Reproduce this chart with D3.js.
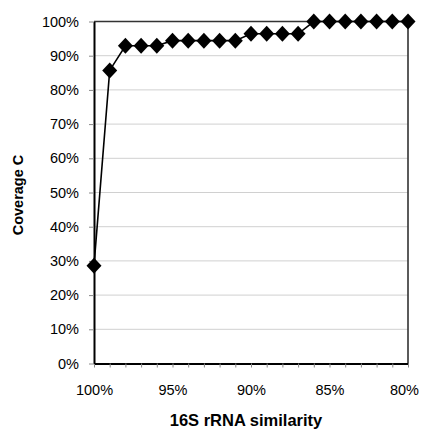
<!DOCTYPE html>
<meta charset="utf-8">
<script src="https://d3js.org/d3.v7.min.js"></script>
<body style="margin:0">
    <div id="viz"></div>
</body>
<style>
    text { font-family: "Liberation Sans", Arial, sans-serif; fill: black; }
</style>
<script>
    // similarity (%) and coverage (%)
    let similarity = [100, 99, 98, 97, 96, 95, 94, 93, 92, 91, 90, 89, 88, 87, 86, 85, 84, 83, 82, 81, 80];
    let coverage = [28.6, 85.7, 92.9, 92.9, 92.9, 94.4, 94.4, 94.4, 94.4, 94.4, 96.4, 96.4, 96.4, 96.4,
        100, 100, 100, 100, 100, 100, 100];
    let xTicks = [100, 95, 90, 85, 80];
    let yTicks = [0, 10, 20, 30, 40, 50, 60, 70, 80, 90, 100];

    let W = 422, H = 429;
    let margin = {top: 21.5, right: 14, bottom: 65.5, left: 94};
    let width = W - margin.left - margin.right, height = H - margin.top - margin.bottom;

    let svg = d3.select("#viz").append("svg")
        .attr("width", W).attr("height", H)
        .append("g")
        .attr("transform", `translate(${margin.left},${margin.top})`);

    let x = d3.scaleLinear().domain([100, 80]).range([0, width]);
    let y = d3.scaleLinear().domain([0, 100]).range([height, 0]);

    // gridlines
    svg.append("g").selectAll("line")
        .data(yTicks.slice(1, -1))
        .enter().append("line")
            .attr("x1", 0).attr("x2", width)
            .attr("y1", d => y(d)).attr("y2", d => y(d))
            .style("stroke", "#d0d0d0").style("stroke-width", 1);

    // plot border (top + right)
    svg.append("path")
        .attr("d", `M0,0H${width}V${height}`)
        .style("fill", "none").style("stroke", "#333").style("stroke-width", 1.6);

    // x axis: ticks every 1%, labels every 5%
    let xAxis = svg.append("g")
        .attr("transform", `translate(0,${height})`)
        .call(d3.axisBottom(x).tickValues(similarity).tickSize(4).tickSizeOuter(0)
            .tickFormat(d => xTicks.includes(d) ? d + "%" : ""));
    xAxis.select(".domain").style("stroke", "black").style("stroke-width", 2);
    xAxis.selectAll(".tick line").style("stroke", "#888");
    xAxis.selectAll(".tick text").attr("dy", "0.71em").attr("y", 21).style("font-size", "14.5px");
    // last label pulled in so it stays inside the page
    xAxis.selectAll(".tick text").filter(d => d == 80).attr("x", -4);

    let yAxis = svg.append("g")
        .call(d3.axisLeft(y).tickValues(yTicks).tickSize(5).tickSizeOuter(0)
            .tickFormat(d => d + "%"));
    yAxis.select(".domain").style("stroke", "black").style("stroke-width", 2);
    yAxis.selectAll(".tick line").style("stroke", "#888");
    yAxis.selectAll(".tick text").attr("x", -15).style("font-size", "14.5px");

    // line + diamonds
    let pts = similarity.map((s, i) => [s, coverage[i]]);
    svg.append("path")
        .datum(pts)
        .attr("d", d3.line().x(d => x(d[0])).y(d => y(d[1])))
        .style("fill", "none").style("stroke", "black").style("stroke-width", 1.6);

    svg.append("g").selectAll("path")
        .data(pts)
        .enter().append("path")
            .attr("d", "M0,-8L7.5,0L0,8L-7.5,0Z")
            .attr("transform", d => `translate(${x(d[0])},${y(d[1])})`)
            .style("fill", "black");

    // axis titles
    svg.append("text")
        .attr("x", 246 - margin.left).attr("y", 425.5 - margin.top)
        .attr("text-anchor", "middle")
        .style("font-size", "16.5px").style("font-weight", "bold")
        .text("16S rRNA similarity");

    svg.append("text")
        .attr("transform", `translate(${23 - margin.left},${195 - margin.top}) rotate(-90)`)
        .attr("text-anchor", "middle")
        .style("font-size", "14.5px").style("font-weight", "bold")
        .text("Coverage C");
</script>
